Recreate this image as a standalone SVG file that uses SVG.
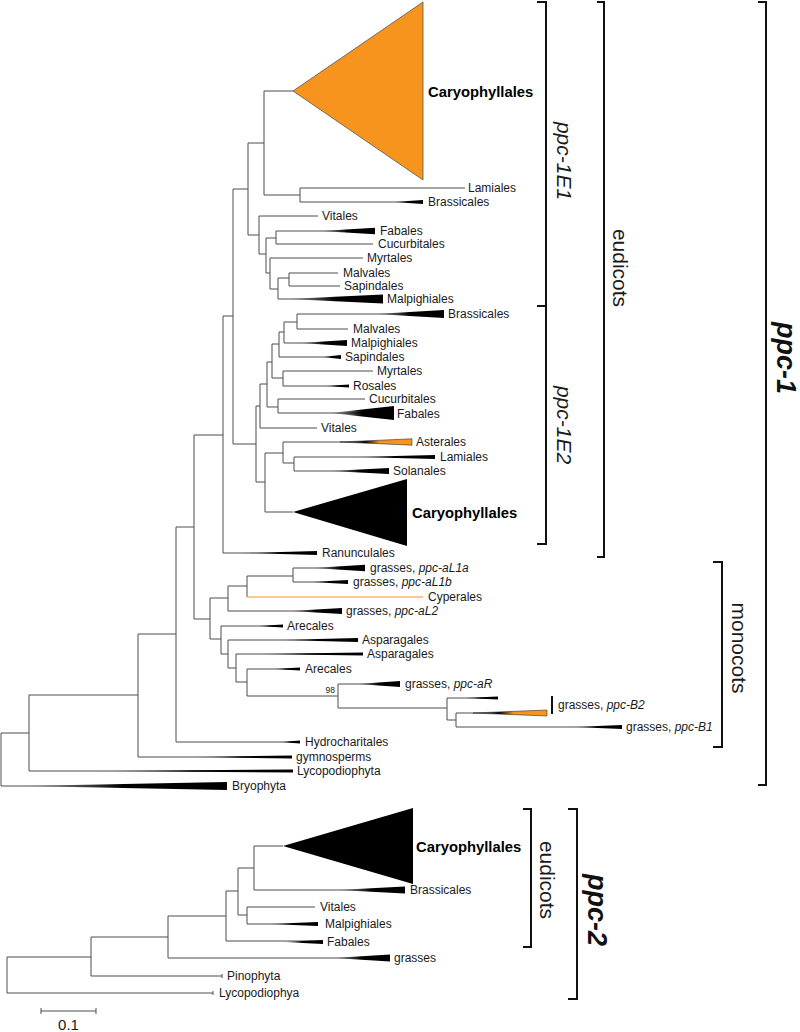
<svg xmlns="http://www.w3.org/2000/svg" width="800" height="1032" viewBox="0 0 800 1032">
<defs>
<linearGradient id="wg" x1="0" y1="0" x2="1" y2="0">
<stop offset="0" stop-color="#000" stop-opacity="0"/>
<stop offset="0.5" stop-color="#000" stop-opacity="1"/>
<stop offset="1" stop-color="#000" stop-opacity="1"/>
</linearGradient>
<linearGradient id="og" x1="0" y1="0" x2="1" y2="0">
<stop offset="0" stop-color="#000" stop-opacity="0.1"/>
<stop offset="0.35" stop-color="#000" stop-opacity="1"/>
<stop offset="0.55" stop-color="#F7941D"/>
<stop offset="1" stop-color="#F7941D"/>
</linearGradient>
<style>
.br{fill:none;stroke:#4d4d4d;stroke-width:1}
.w{fill:url(#wg);stroke:none}
.ow{fill:url(#og);stroke:#333;stroke-width:0.6}
text{font-family:"Liberation Sans",Arial,sans-serif;font-size:12px;fill:#1a1a1a}
.b{font-weight:bold;font-size:14.8px;fill:#000}
.i{font-style:italic}
.bk{fill:none;stroke:#111;stroke-width:2}
.rl{font-size:21px}
.big{font-size:27px;font-weight:bold;font-style:italic;fill:#111}
</style>
</defs>
<rect width="800" height="1032" fill="#fff"/>

<g id="connectors">
<path class="br" d="M1 733V786M29 695V771M138 634V757M176 527V742M194 435V619M223 316V553M233 189V444M248 143V235M264 91V195M300 188V202M259 216V254M266 238V273M276 231V244M270 258V289M278 278V299M289 273V286M256 406V482M260 384V428M267 362V407M278 399V413M272 344V378M283 371V386M279 332V357M284 322V343M297 314V329M265 453V512M283 442V463M294 457V471M210 598V639M228 586V611M247 576V597M293 568V582M221 626V654M228 640V668M236 654V682M247 669V696M338 684V708M447 698V720M456 713V727"/>
<path class="br" d="M1 733H29M1 786H227M29 695H138M29 771H293M138 634H176M138 757H292M176 527H194M176 742H300M194 435H223M194 619H210M223 316H233M223 553H317M233 189H248M233 444H256M248 143H264M248 235H259M264 91H293M264 195H300M300 188H465M300 202H423M259 216H318M259 254H266M266 238H276M276 231H375M276 244H373M266 273H270M270 258H363M270 289H278M278 299H383M278 278H289M289 273H338M289 286H340"/>
<path class="br" d="M256 406H260M256 482H265M260 384H267M260 428H317M267 362H272M267 407H278M278 399H365M278 413H394M272 344H279M272 378H283M283 371H373M283 386H349M279 332H284M279 357H341M284 322H297M284 343H347M297 314H444M297 329H348M265 453H283M265 512H293M283 442H412M283 463H294M294 457H435M294 471H389"/>
<path class="br" d="M210 598H228M210 639H221M228 586H247M228 611H342M247 576H293M293 568H365M293 582H348M221 626H283M221 654H228M228 640H358M228 668H236M236 654H363M236 682H247M247 669H300M247 696H338M338 684H400M338 708H447M447 698H498M447 720H456M456 713H547M456 727H622"/>
<path fill="none" stroke="#F7941D" stroke-width="1" d="M247 597H423"/>
<path class="br" d="M7 957V993M7 957H91M7 993H213M213 991V995M91 937V976M91 976H222M222 974V978M91 937H168M168 916V958M168 958H390M168 916H226M226 891V941M226 941H323M226 891H238M238 868V915M238 915H247M247 907V924M247 907H315M247 924H318M238 868H254M254 846V890M254 846H283M254 890H405"/>
</g>

<g id="n-caryo1"><polygon points="293,91 423,2 423,180" fill="#F7941D" stroke="#555" stroke-width="0.8"/><text class="b" x="428" y="97">Caryophyllales</text></g>
<g id="n-lamiales1"><text x="468" y="192">Lamiales</text></g>
<g id="n-brassicales1"><polygon class="w" points="393,202 423,200 423,204"/><text x="428" y="206">Brassicales</text></g>
<g id="n-vitales1"><text x="322" y="220">Vitales</text></g>
<g id="n-fabales1"><polygon class="w" points="320,231 375,227.8 375,234.2"/><text x="380" y="235">Fabales</text></g>
<g id="n-cucurbitales1"><text x="378" y="248">Cucurbitales</text></g>
<g id="n-myrtales1"><text x="367" y="262">Myrtales</text></g>
<g id="n-malvales1"><text x="343" y="277">Malvales</text></g>
<g id="n-sapindales1"><text x="344" y="290">Sapindales</text></g>
<g id="n-malpighiales1"><polygon class="w" points="287,299 383,294.5 383,303.5"/><text x="387" y="303">Malpighiales</text></g>

<g id="n-brassicales2"><polygon class="w" points="375,314 444,310 444,318"/><text x="448" y="318">Brassicales</text></g>
<g id="n-malvales2"><text x="353" y="333">Malvales</text></g>
<g id="n-malpighiales2"><polygon class="w" points="300,343 347,340 347,346"/><text x="351" y="347">Malpighiales</text></g>
<g id="n-sapindales2"><polygon class="w" points="322,357 341,355 341,359"/><text x="345" y="361">Sapindales</text></g>
<g id="n-myrtales2"><text x="377" y="375">Myrtales</text></g>
<g id="n-rosales2"><polygon class="w" points="325,386 349,384.5 349,387.5"/><text x="353" y="390">Rosales</text></g>
<g id="n-cucurbitales2"><text x="369" y="403">Cucurbitales</text></g>
<g id="n-fabales2"><polygon class="w" points="330,413 394,406 394,420"/><text x="397" y="418">Fabales</text></g>
<g id="n-vitales2"><text x="321" y="432">Vitales</text></g>
<g id="n-asterales"><polygon class="ow" points="340,442 412,438.8 412,445.2"/><text x="416" y="446">Asterales</text></g>
<g id="n-lamiales2"><polygon class="w" points="355,457 435,455 435,459"/><text x="440" y="461">Lamiales</text></g>
<g id="n-solanales"><polygon class="w" points="330,471 389,468 389,474"/><text x="393" y="475">Solanales</text></g>
<g id="n-caryo2"><polygon points="293,512 407,479 407,546" fill="#000"/><text class="b" x="412" y="518">Caryophyllales</text></g>
<g id="n-ranunculales"><polygon class="w" points="240,553 317,551 317,555"/><text x="322" y="557">Ranunculales</text></g>

<g id="n-aL1a"><polygon class="w" points="313,568 365,564.7 365,571.3"/><text x="370" y="572">grasses, <tspan class="i">ppc-aL1a</tspan></text></g>
<g id="n-aL1b"><polygon class="w" points="310,582 348,580 348,584"/><text x="353" y="586">grasses, <tspan class="i">ppc-aL1b</tspan></text></g>
<g id="n-cyperales"><text x="428" y="601">Cyperales</text></g>
<g id="n-aL2"><polygon class="w" points="290,611 342,608 342,614"/><text x="346" y="615">grasses, <tspan class="i">ppc-aL2</tspan></text></g>
<g id="n-arecales1"><polygon class="w" points="257,626 283,624.5 283,627.5"/><text x="287" y="630">Arecales</text></g>
<g id="n-asparagales1"><polygon class="w" points="277,640 358,638 358,642"/><text x="362" y="644">Asparagales</text></g>
<g id="n-asparagales2"><polygon class="w" points="253,654 363,652.5 363,655.5"/><text x="367" y="658">Asparagales</text></g>
<g id="n-arecales2"><polygon class="w" points="273,669 300,667.5 300,670.5"/><text x="305" y="673">Arecales</text></g>
<g id="n-aR"><polygon class="w" points="357,684 400,681 400,687"/><text x="405" y="688">grasses, <tspan class="i">ppc-aR</tspan></text><text x="335" y="693" text-anchor="end" style="font-size:8.5px">98</text></g>
<g id="n-B2"><polygon class="w" points="463,698 498,696.5 498,699.5"/><polygon class="ow" points="473,713 547,710 547,716"/><line x1="552" y1="696" x2="552" y2="714" stroke="#111" stroke-width="2"/><text x="558" y="709">grasses, <tspan class="i">ppc-B2</tspan></text></g>
<g id="n-B1"><polygon class="w" points="573,727 622,725 622,729"/><text x="626" y="731">grasses, <tspan class="i">ppc-B1</tspan></text></g>
<g id="n-hydrocharitales"><polygon class="w" points="280,742 300,740.5 300,743.5"/><text x="305" y="746">Hydrocharitales</text></g>
<g id="n-gymnosperms"><polygon class="w" points="190,757 292,755.5 292,758.5"/><text x="296" y="761">gymnosperms</text></g>
<g id="n-lycopodiophyta"><polygon class="w" points="90,771 293,769.5 293,772.5"/><text x="297" y="775">Lycopodiophyta</text></g>
<g id="n-bryophyta"><polygon class="w" points="20,786 227,782 227,790"/><text x="232" y="790">Bryophyta</text></g>

<g id="n2-caryo"><polygon points="283,846 413,808 413,884" fill="#000"/><text class="b" x="416" y="852">Caryophyllales</text></g>
<g id="n2-brassicales"><polygon class="w" points="337,890 405,886.5 405,893.5"/><text x="410" y="894">Brassicales</text></g>
<g id="n2-vitales"><text x="320" y="911">Vitales</text></g>
<g id="n2-malpighiales"><polygon class="w" points="268,924 318,922 318,926"/><text x="325" y="928">Malpighiales</text></g>
<g id="n2-fabales"><polygon class="w" points="282,942 323,940 323,944"/><text x="327" y="946">Fabales</text></g>
<g id="n2-grasses"><polygon class="w" points="333,958 390,954.5 390,961.5"/><text x="394" y="962">grasses</text></g>
<g id="n2-pinophyta"><text x="227" y="980">Pinophyta</text></g>
<g id="n2-lycopodiophya"><text x="219" y="997">Lycopodiophya</text></g>

<g id="brackets">
<path class="bk" d="M537 2H546V544H537M537 306H546"/>
<text class="rl i" transform="translate(557,161) rotate(90)" text-anchor="middle">ppc-1E1</text>
<text class="rl i" transform="translate(557,425) rotate(90)" text-anchor="middle">ppc-1E2</text>
<path class="bk" d="M597 2H604V557H597"/>
<text class="rl" transform="translate(613,268) rotate(90)" text-anchor="middle">eudicots</text>
<path class="bk" d="M713 562H722V747H713"/>
<text class="rl" transform="translate(732,648) rotate(90)" text-anchor="middle">monocots</text>
<path class="bk" d="M758 2H766V785H758"/>
<text class="big" transform="translate(777,358) rotate(90)" text-anchor="middle">ppc-1</text>
<path class="bk" d="M523 809H531V947H523"/>
<text class="rl" transform="translate(540,880) rotate(90)" text-anchor="middle">eudicots</text>
<path class="bk" d="M568 809H577V999H568"/>
<text class="big" transform="translate(588,910) rotate(90)" text-anchor="middle">ppc-2</text>
</g>

<g id="scalebar">
<path class="br" d="M41 1011H96M41 1008V1014M96 1008V1014"/>
<text x="68.5" y="1030" text-anchor="middle" style="font-size:15px">0.1</text>
</g>
</svg>
